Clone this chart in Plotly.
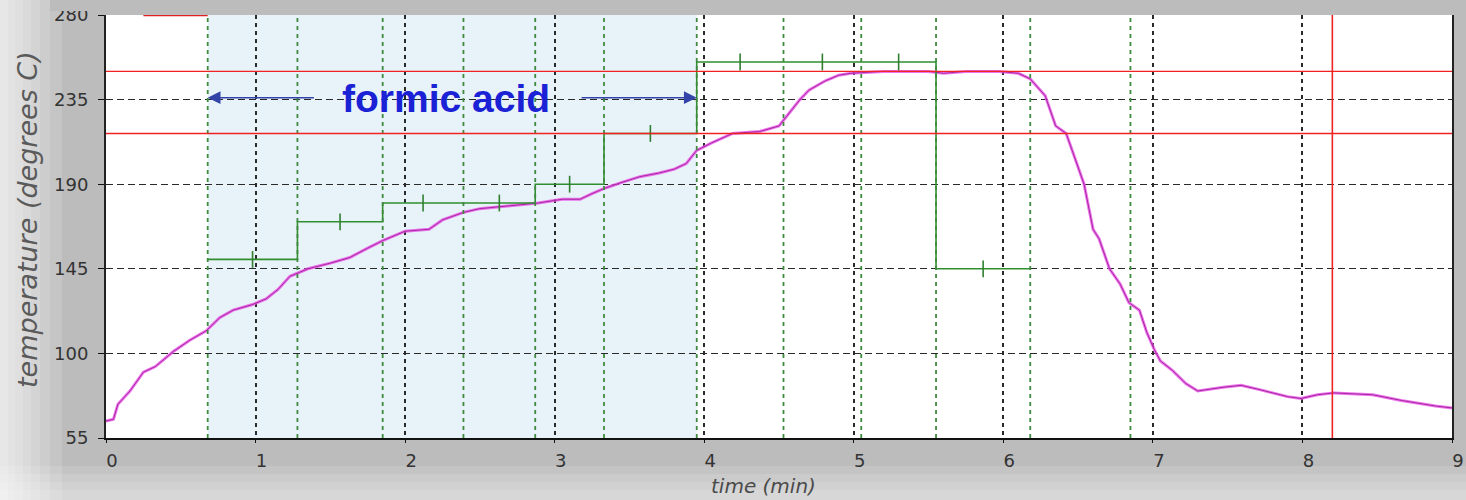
import plotly.graph_objects as go

# ---------------- data ----------------
time_min = [0.00, 0.05, 0.08, 0.16, 0.25, 0.33, 0.45, 0.56, 0.67, 0.76, 0.85, 0.98,
            1.07, 1.15, 1.23, 1.35, 1.50, 1.63, 1.75, 1.85, 2.00, 2.16, 2.25, 2.39,
            2.50, 2.63, 2.75, 2.89, 3.05, 3.17, 3.25, 3.34, 3.45, 3.57, 3.70, 3.80,
            3.88, 3.95, 4.05, 4.19, 4.37, 4.50, 4.55, 4.64, 4.70, 4.81, 4.90, 4.98,
            5.20, 5.50, 5.60, 5.75, 5.97, 6.10, 6.18, 6.28, 6.35, 6.42, 6.46, 6.54,
            6.60, 6.64, 6.71, 6.78, 6.84, 6.91, 6.96, 7.01, 7.05, 7.13, 7.22, 7.30,
            7.47, 7.59, 7.70, 7.90, 7.99, 8.10, 8.21, 8.47, 8.66, 8.89, 9.00]
temperature = [64, 65, 73, 80, 90, 93, 101, 107, 112, 119, 123, 126,
               129, 134, 141, 145, 148, 151, 156, 160, 165, 166, 171, 175,
               177, 178, 179, 180, 182, 182, 185, 188, 191, 194, 196, 198,
               201, 208, 212, 217, 218, 221, 226, 235, 240, 245, 248, 249,
               250, 250, 249, 250, 250, 249, 246, 237, 221, 217, 208, 190,
               166, 161, 145, 137, 127, 123, 111, 102, 96, 91, 84, 80,
               82, 83, 81, 77, 76, 78, 79, 78, 75, 72, 71]

# program steps (setpoints) and their boundaries
step_bounds = [0.68, 1.28, 1.85, 2.39, 2.87, 3.33, 3.95, 4.53, 5.05, 5.55, 6.18]
step_values = [150, 170, 180, 180, 190, 217, 255, 255, 255, 145]
event_lines = step_bounds + [6.85]

red_levels = [250, 217]
red_time = 8.2
shade_start, shade_end = 0.68, 3.95

x_ticks = [0, 1, 2, 3, 4, 5, 6, 7, 8, 9]
y_ticks = [55, 100, 145, 190, 235, 280]

# ---------------- figure ----------------
W, H = 1466, 500
ML, MR, MT, MB = 106, 14, 15, 62
PW, PH = W - ML - MR, H - MT - MB
LABEL_FONT = "DejaVu Sans, Verdana, sans-serif"
BG = "#bcbcbc"


def px(x):
    return (x - ML) / PW


def py(y):
    return (H - MB - y) / PH


fig = go.Figure()

# pink measured temperature (glow + core)
fig.add_trace(go.Scatter(x=time_min, y=temperature, mode="lines",
                         line=dict(color="rgba(232,80,232,0.8)", width=3),
                         hoverinfo="skip", showlegend=False))
fig.add_trace(go.Scatter(x=time_min, y=temperature, mode="lines",
                         line=dict(color="#a8289f", width=1),
                         showlegend=False))

# green program step line
gx = step_bounds
gy = step_values + [step_values[-1]]
fig.add_trace(go.Scatter(x=gx, y=gy, mode="lines", line_shape="hv",
                         line=dict(color="#2f8f2f", width=1.6), showlegend=False))
mids = [(step_bounds[i] + step_bounds[i + 1]) / 2 for i in range(len(step_values))]
fig.add_trace(go.Scatter(x=mids, y=step_values, mode="markers",
                         marker=dict(symbol="line-ns", size=12,
                                     line=dict(color="#2f7f2f", width=1.6)),
                         showlegend=False))

shapes = []
# shaded region
shapes.append(dict(type="rect", xref="x", yref="paper", x0=shade_start, x1=shade_end,
                   y0=0, y1=1, fillcolor="#e8f2f9", line_width=0, layer="below"))
# green dashed event lines
for t in event_lines:
    shapes.append(dict(type="line", xref="x", yref="paper", x0=t, x1=t, y0=0, y1=1,
                       line=dict(color="#3f8a3f", width=1.8, dash="4px,4px"),
                       layer="above"))
# red reference lines
for lv in red_levels:
    shapes.append(dict(type="line", xref="paper", yref="y", x0=0, x1=1, y0=lv, y1=lv,
                       line=dict(color="#f02222", width=1.4), layer="above"))
shapes.append(dict(type="line", xref="x", yref="paper", x0=red_time, x1=red_time,
                   y0=0, y1=1, line=dict(color="#f02222", width=1.6), layer="above"))
shapes.append(dict(type="line", xref="x", yref="y", x0=0.25, x1=shade_start,
                   y0=280, y1=280, line=dict(color="#e02020", width=2.5), layer="above"))

# background fades (left white glow, lighter bottom)
for w in [62, 50, 40, 31, 23, 15, 8]:
    shapes.append(dict(type="rect", xref="paper", yref="paper", x0=px(0), x1=px(w),
                       y0=py(H), y1=py(0), fillcolor="white", opacity=0.14,
                       line_width=0, layer="below"))
for h in [34, 26, 18, 10]:
    shapes.append(dict(type="rect", xref="paper", yref="paper", x0=px(0), x1=px(W),
                       y0=py(H), y1=py(H - h), fillcolor="white", opacity=0.13,
                       line_width=0, layer="below"))
# top edge of the cropped screenshot (hides upper part of the top tick label)
shapes.append(dict(type="rect", xref="paper", yref="paper", x0=px(50), x1=px(100),
                   y0=py(11), y1=py(0), fillcolor=BG, line_width=0, layer="above"))

annotations = [
    dict(text="<b>formic acid</b>", xref="x", yref="y",
         x=(shade_start + shade_end) / 2 - 0.04, y=235.5, showarrow=False,
         font=dict(family="Liberation Sans, Arial", size=39, color="#1b22d6")),
    dict(text="", xref="x", yref="y", axref="x", ayref="y", x=shade_start, y=236,
         ax=1.40, ay=236, showarrow=True, arrowhead=2, arrowsize=1.6, arrowwidth=1.6,
         arrowcolor="#3344a8", standoff=0, startstandoff=0),
    dict(text="", xref="x", yref="y", axref="x", ayref="y", x=shade_end, y=236,
         ax=3.17, ay=236, showarrow=True, arrowhead=2, arrowsize=1.6, arrowwidth=1.6,
         arrowcolor="#3344a8", standoff=0, startstandoff=0),
    dict(text="<i>temperature (degrees C)</i>", xref="paper", yref="paper",
         x=px(27), y=py(220), xanchor="center", yanchor="middle",
         textangle=-90, showarrow=False,
         font=dict(family=LABEL_FONT, size=27, color="#5a5a5a")),
    dict(text="<i>time (min)</i>", xref="paper", yref="paper",
         x=px(763), y=py(486), xanchor="center", yanchor="middle", showarrow=False,
         font=dict(family=LABEL_FONT, size=20, color="#4a4a4a")),
]

fig.update_layout(
    width=W, height=H,
    margin=dict(l=ML, r=MR, t=MT, b=MB, autoexpand=False),
    paper_bgcolor=BG,
    plot_bgcolor="white",
    shapes=shapes,
    annotations=annotations,
    font=dict(family=LABEL_FONT, size=18, color="#333333"),
    xaxis=dict(range=[0, 9], tickvals=x_ticks, ticktext=[str(v) for v in x_ticks],
               automargin=False,
               showgrid=True, gridcolor="#2a2a2a", gridwidth=1.6, griddash="4px,4px",
               zeroline=False, showline=True, linecolor="#111", linewidth=2,
               ticks="outside", ticklen=3, tickcolor="#111",
               ticklabelshift=6, ticklabelstandoff=2,
               tickfont=dict(family=LABEL_FONT, size=18, color="#333")),
    yaxis=dict(range=[55, 280], tickvals=y_ticks, ticktext=[str(v) for v in y_ticks],
               automargin=False,
               showgrid=True, gridcolor="#2a2a2a", gridwidth=1.3, griddash="7px,4px",
               zeroline=False, showline=True, mirror=True, linecolor="#222", linewidth=2,
               ticks="outside", ticklen=6, tickcolor="#111", ticklabelstandoff=6,
               tickfont=dict(family=LABEL_FONT, size=18, color="#333")),
)

fig.write_html("out.html", config={"displayModeBar": False},
               post_script="document.body.style.margin='0px';"
                           "document.body.style.overflow='hidden';")
